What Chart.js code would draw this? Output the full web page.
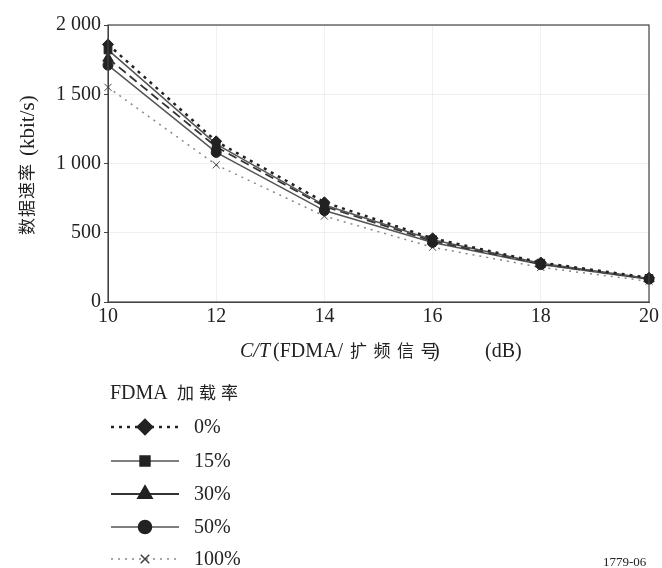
<!DOCTYPE html>
<html>
<head>
<meta charset="utf-8">
<script src="https://cdn.jsdelivr.net/npm/chart.js@4.4.0/dist/chart.umd.min.js"></script>
<style>
  html, body { margin: 0; padding: 0; background: #fff; }
  canvas { display: block; }
</style>
</head>
<body>
<canvas id="myChart" width="662" height="568"></canvas>
<script>
// ===== Data =====
const ctValues = [10, 12, 14, 16, 18, 20];               // C/T (dB)
const load0   = [1860, 1160, 720, 460, 285, 175];        // 0%
const load15  = [1820, 1140, 700, 450, 280, 170];        // 15%
const load30  = [1760, 1120, 690, 440, 275, 168];        // 30%
const load50  = [1710, 1080, 660, 430, 270, 165];        // 50%
const load100 = [1550, 990, 620, 395, 250, 150];         // 100%
const seriesLabels = ["0%", "15%", "30%", "50%", "100%"];
const yTicks = [0, 500, 1000, 1500, 2000];

const SERIF = '"Liberation Serif", serif';
const CJK = '"Noto Sans CJK SC", sans-serif';

function pts(arr) { return arr.map((v, i) => ({ x: ctValues[i], y: v })); }

// ===== Datasets =====
const datasets = [
  { label: seriesLabels[0], data: pts(load0), borderColor: '#222', borderWidth: 2.5, borderDash: [3, 5],
    pointStyle: 'rectRot', pointRadius: 5.5, legendDash: [3, 5], legendRadius: 7 },
  { label: seriesLabels[1], data: pts(load15), borderColor: '#555', borderWidth: 1.5, borderDash: [],
    pointStyle: 'rect', pointRadius: 5.5, legendDash: [], legendRadius: 7 },
  { label: seriesLabels[2], data: pts(load30), borderColor: '#333', borderWidth: 1.8, borderDash: [9, 5],
    pointStyle: 'triangle', pointRadius: 6, legendDash: [], legendRadius: 8 },
  { label: seriesLabels[3], data: pts(load50), borderColor: '#555', borderWidth: 1.5, borderDash: [],
    pointStyle: 'circle', pointRadius: 5, legendDash: [], legendRadius: 6.5 },
  { label: seriesLabels[4], data: pts(load100), borderColor: '#888', borderWidth: 1.5, borderDash: [2, 5],
    pointStyle: 'crossRot', pointRadius: 5, pointBorderColor: '#444', legendDash: [2, 5], legendRadius: 6 }
].map(d => Object.assign({
  backgroundColor: '#222', pointBackgroundColor: '#222',
  pointBorderColor: d.pointBorderColor || '#222', pointBorderWidth: 1, tension: 0, fill: false, clip: false
}, d));

// draw CJK characters one by one with a fixed pitch
function spaced(c, text, x, y, pitch) {
  c.font = '17px ' + CJK;
  for (const ch of text) { c.fillText(ch, x, y); x += pitch; }
}

// ===== Frame, axis titles and legend =====
const extras = {
  id: 'extras',
  afterDraw(chart) {
    const c = chart.ctx, a = chart.chartArea;
    c.save();
    // plot box
    c.strokeStyle = '#444'; c.lineWidth = 1.2; c.setLineDash([]);
    c.strokeRect(a.left, a.top, a.right - a.left, a.bottom - a.top);

    // y title
    c.fillStyle = '#222';
    c.translate(27, 160);
    c.rotate(-Math.PI / 2);
    c.textBaseline = 'middle'; c.textAlign = 'left';
    spaced(c, '数据速率', -75, 0, 18);
    c.font = '21px ' + SERIF;
    c.fillText('(kbit/s)', 4, 1);
    c.setTransform(1, 0, 0, 1, 0, 0);

    // x title
    let y = 352;
    c.font = 'italic 20px ' + SERIF; c.fillText('C/T', 240, y);
    c.font = '20px ' + SERIF; c.fillText('(FDMA/', 273, y);
    spaced(c, '扩频信号', 350, y - 1, 23.5);
    c.font = '20px ' + SERIF; c.fillText(')', 433, y);
    c.fillText('(dB)', 485, y);

    // legend
    y = 394;
    c.font = '20px ' + SERIF; c.fillText('FDMA', 110, y);
    spaced(c, '加载率', 177, y - 1, 22);
    const rowY = [427, 461, 494, 527, 559];
    chart.data.datasets.forEach((ds, i) => {
      const ly = rowY[i];
      c.strokeStyle = ds.borderColor; c.lineWidth = ds.borderWidth;
      c.setLineDash(ds.legendDash);
      c.beginPath(); c.moveTo(111, ly); c.lineTo(179, ly); c.stroke();
      c.setLineDash([]);
      c.fillStyle = '#222'; c.strokeStyle = ds.pointBorderColor;
      Chart.helpers.drawPoint(c, {
        pointStyle: ds.pointStyle, radius: ds.legendRadius, rotation: 0, borderWidth: 1
      }, 145, ly);
      c.fillStyle = '#222';
      c.font = '20px ' + SERIF;
      c.fillText(ds.label, 194, ly + 1);
    });

    c.font = '13px ' + SERIF;
    c.fillText('1779-06', 603, 563);
    c.restore();
  }
};

// ===== Chart =====
const chart = new Chart(document.getElementById('myChart').getContext('2d'), {
  type: 'line',
  data: { datasets },
  options: {
    responsive: false,
    animation: false,
    layout: { padding: { left: 0, top: 25, right: 7, bottom: 0 } },
    plugins: { legend: { display: false }, tooltip: { enabled: false } },
    scales: {
      x: {
        type: 'linear', min: 10, max: 20,
        afterFit: s => { s.height = 266; },
        afterBuildTicks: s => { s.ticks = ctValues.map(v => ({ value: v })); },
        grid: { color: 'rgba(0,0,0,0.06)', drawTicks: false },
        border: { color: '#444' },
        ticks: { color: '#222', padding: 3, maxRotation: 0, font: { family: SERIF, size: 20 } }
      },
      y: {
        min: 0, max: 2000,
        afterFit: s => { s.width = 108; },
        afterBuildTicks: s => { s.ticks = yTicks.map(v => ({ value: v })); },
        grid: { color: 'rgba(0,0,0,0.06)', tickLength: 4, tickColor: '#444' },
        border: { color: '#444' },
        ticks: {
          color: '#222', padding: 3, font: { family: SERIF, size: 20 },
          callback: v => String(v).replace(/\B(?=(\d{3})+(?!\d))/g, ' ')
        }
      }
    }
  },
  plugins: [extras]
});
</script>
</body>
</html>
